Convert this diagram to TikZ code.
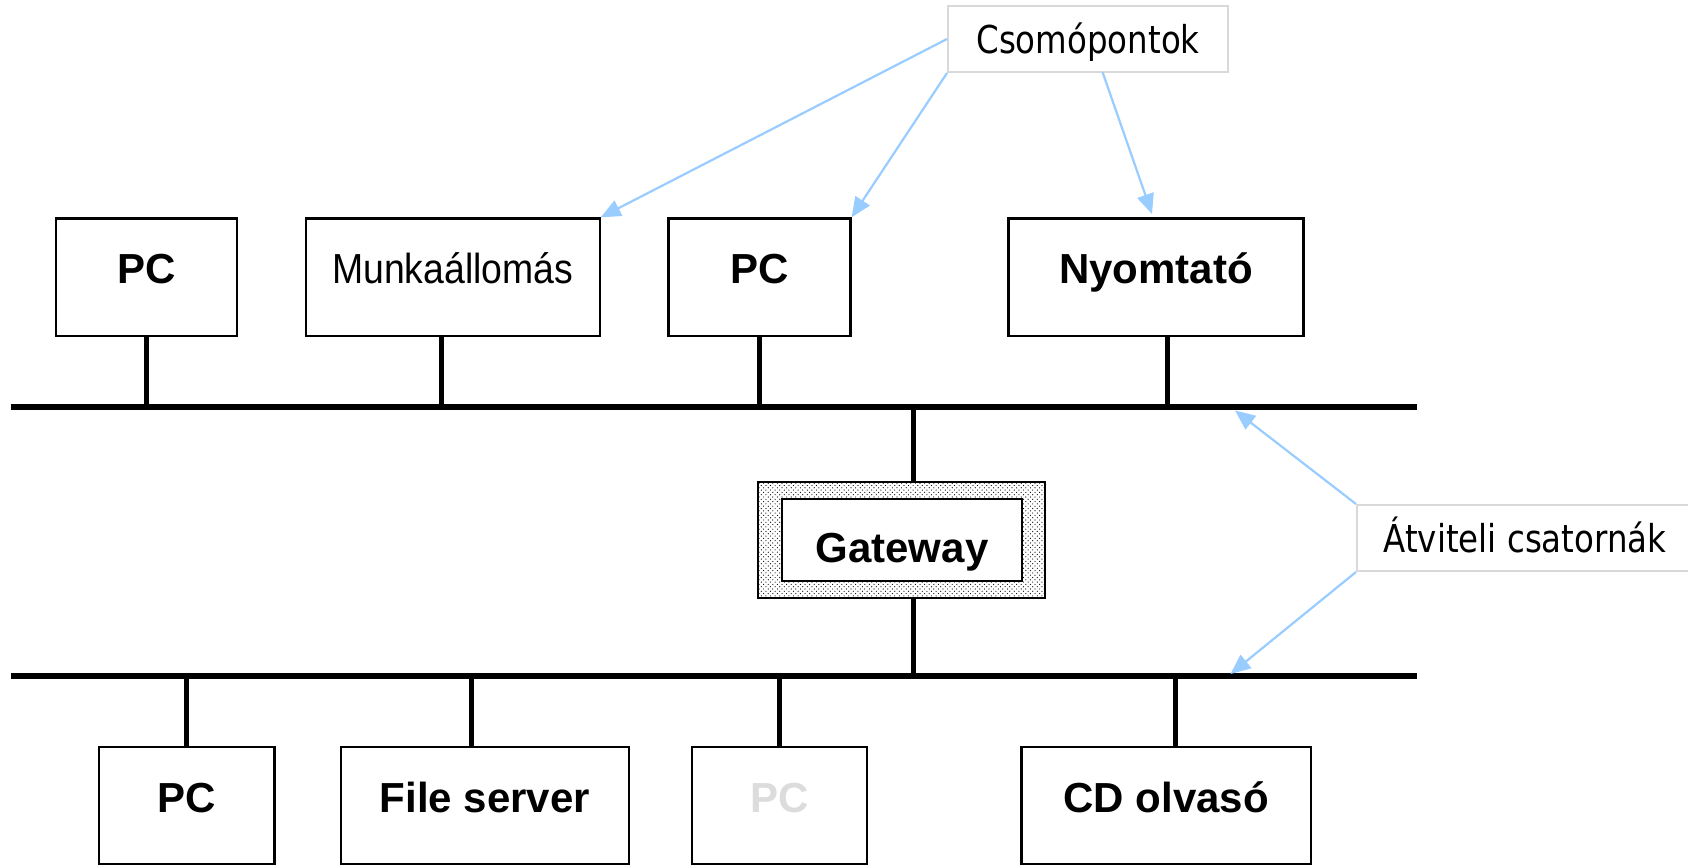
\documentclass[tikz,border=0pt]{standalone}
\usepackage{fontspec}
\setmainfont{Liberation Sans}
\newfontfamily\narrowfont[FakeStretch=0.89]{Liberation Sans}
\newfontfamily\tahfont[FakeStretch=0.845]{DejaVu Sans}
\usetikzlibrary{arrows.meta,patterns}
\definecolor{arrowblue}{HTML}{99CCFF}
\definecolor{lbox}{HTML}{D9D9D9}
\definecolor{ghost}{HTML}{DCDCDC}
\pgfdeclarepatternformonly{sparsedots}{\pgfqpoint{-1pt}{-1pt}}{\pgfqpoint{4pt}{4pt}}{\pgfqpoint{4.6pt}{4.6pt}}{%
  \pgfpathcircle{\pgfqpoint{0pt}{0pt}}{0.6pt}%
  \pgfpathcircle{\pgfqpoint{2.3pt}{2.3pt}}{0.6pt}%
  \pgfusepath{fill}}
\begin{document}
\begin{tikzpicture}[x=1pt,y=-1pt,
  devbox/.style={draw=black,line width=2.2pt,fill=white,inner sep=0pt,
    minimum height=117.5pt,font=\fontsize{42}{48}\selectfont\bfseries,
    text height=31pt,text depth=18pt},
  lblbox/.style={draw=lbox,line width=2pt,fill=white,inner sep=0pt,
    minimum height=66pt,font=\tahfont\fontsize{38.4}{44}\selectfont,
    text height=28pt,text depth=0pt},
  bus/.style={line width=5.5pt},
  drop/.style={line width=5pt},
  callout/.style={draw=arrowblue,line width=2.2pt,-{Triangle[length=20pt,width=17pt]}}
]
\clip (0,0) rectangle (1688,865);
\fill[white] (0,0) rectangle (1688,865);

% buses
\coordinate (b1l) at (10.8,407);
\coordinate (b1r) at (1416.7,407);
\coordinate (b2l) at (10.8,676);
\coordinate (b2r) at (1416.7,676);
\draw[bus] (b1l) -- (b1r);
\draw[bus] (b2l) -- (b2r);

% top devices
\node[devbox,minimum width=181pt] (pc1) at (146.5,277.2) {PC};
\node[devbox,minimum width=294pt,font=\narrowfont\fontsize{42}{48}\selectfont] (mu) at (452.6,277.2) {Munkaállomás};
\node[devbox,minimum width=182pt] (pc2) at (759.5,277.2) {PC};
\node[devbox,minimum width=295pt] (ny) at (1156,277.2) {Nyomtató};

% bottom devices
\node[devbox,minimum width=175.5pt] (pc3) at (186.8,805.5) {PC};
\node[devbox,minimum width=288pt] (fs) at (485,805.5) {File server};
\node[devbox,minimum width=175pt,text=ghost] (pc4) at (779.5,805.5) {PC};
\node[devbox,minimum width=289.5pt] (cd) at (1166.3,805.5) {CD olvasó};

% taps on buses
\coordinate (t1) at (146,407);
\coordinate (t2) at (441,407);
\coordinate (t3) at (759,407);
\coordinate (t4) at (1167.5,407);
\coordinate (u1) at (186,676);
\coordinate (u2) at (471.5,676);
\coordinate (u3) at (779.5,676);
\coordinate (u4) at (1175.5,676);
\coordinate (tg) at (913,407);
\coordinate (ug) at (913,676);

\draw[drop] (pc1.south -| t1) -- (t1);
\draw[drop] (mu.south -| t2) -- (t2);
\draw[drop] (pc2.south -| t3) -- (t3);
\draw[drop] (ny.south -| t4) -- (t4);
\draw[drop] (pc3.north -| u1) -- (u1);
\draw[drop] (fs.north -| u2) -- (u2);
\draw[drop] (pc4.north -| u3) -- (u3);
\draw[drop] (cd.north -| u4) -- (u4);

% gateway
\node[draw=black,line width=2pt,preaction={fill=white},pattern=sparsedots,
  pattern color=black,minimum width=287pt,minimum height=116pt,inner sep=0pt]
  (gwo) at (901.5,540) {};
\node[draw=black,line width=2.4pt,fill=white,minimum width=240pt,minimum height=82pt,
  inner sep=0pt,font=\fontsize{42}{48}\selectfont\bfseries,text height=45pt,text depth=0pt]
  (gw) at (902,540) {Gateway};
\draw[drop] (gwo.north -| tg) -- (tg);
\draw[drop] (gwo.south -| ug) -- (ug);

% callout labels
\node[lblbox,minimum width=280pt] (cs) at (1088,39) {Csomópontok};
\node[lblbox,minimum width=336pt] (at) at (1525,538) {Átviteli csatornák};

\coordinate (csb) at (1102.5,72);
\coordinate (nyt) at (1152,214);
\coordinate (bt1) at (1235,410.5);
\coordinate (bt2) at (1230.5,674);

\draw[callout] (cs.west) -- (mu.north east);
\draw[callout] (cs.south west) -- (pc2.north east);
\draw[callout] (csb) -- (nyt);
\draw[callout] (at.north west) -- (bt1);
\draw[callout] (at.south west) -- (bt2);
\end{tikzpicture}
\end{document}
